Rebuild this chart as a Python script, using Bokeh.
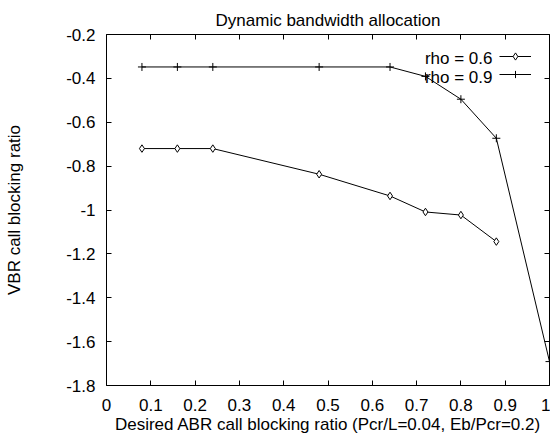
from math import pi
from bokeh.plotting import figure
from bokeh.models import Range1d, FixedTicker, LinearAxis, Label, Legend, LegendItem
from bokeh.embed import file_html
from bokeh.resources import INLINE

title_text = "Dynamic bandwidth allocation"
x_label = "Desired ABR call blocking ratio (Pcr/L=0.04, Eb/Pcr=0.2)"
y_label = "VBR call blocking ratio"
series_names = ["rho = 0.6", "rho = 0.9"]

x_rho06 = [0.08, 0.16, 0.24, 0.48, 0.64, 0.72, 0.80, 0.88]
y_rho06 = [-0.72, -0.72, -0.72, -0.837, -0.936, -1.009, -1.023, -1.144]
x_rho09 = [0.08, 0.16, 0.24, 0.48, 0.64, 0.72, 0.80, 0.88, 1.0]
y_rho09 = [-0.348, -0.348, -0.348, -0.348, -0.348, -0.391, -0.495, -0.673, -1.691]

x_ticks = [0.0, 0.1, 0.2, 0.3, 0.4, 0.5, 0.6, 0.7, 0.8, 0.9, 1.0]
x_tick_labels = ["0", "0.1", "0.2", "0.3", "0.4", "0.5", "0.6", "0.7", "0.8", "0.9", "1"]
y_ticks = [-1.8, -1.6, -1.4, -1.2, -1.0, -0.8, -0.6, -0.4, -0.2]
y_tick_labels = ["-1.8", "-1.6", "-1.4", "-1.2", "-1", "-0.8", "-0.6", "-0.4", "-0.2"]

FONT = "Liberation Sans"
FS = "17px"

p = figure(width=550, height=436, output_backend="svg", toolbar_location=None,
           x_range=Range1d(0, 1), y_range=Range1d(-1.8, -0.2),
           min_border_left=106, min_border_right=1, min_border_top=34, min_border_bottom=49,
           x_axis_location=None, y_axis_location=None)
p.grid.visible = False
p.outline_line_color = "black"
p.outline_line_width = 1
p.background_fill_color = "white"
p.border_fill_color = "white"

p.title.text = title_text
p.title.align = "center"
p.title.text_font = FONT
p.title.text_font_size = FS
p.title.text_font_style = "normal"
p.title.text_color = "black"
p.title.standoff = 9


def make_axis(ticks, labels, show_labels):
    ax = LinearAxis(ticker=FixedTicker(ticks=ticks))
    ax.major_tick_in = 5
    ax.major_tick_out = 0
    ax.minor_tick_in = 0
    ax.minor_tick_out = 0
    ax.axis_line_color = None
    ax.major_tick_line_color = "black"
    ax.major_label_text_font = FONT
    ax.major_label_text_color = "black"
    if show_labels:
        ax.major_label_overrides = {t: l for t, l in zip(ticks, labels)}
        ax.major_label_text_font_size = FS
        ax.major_label_standoff = 11
        ax.axis_label_text_font = FONT
        ax.axis_label_text_font_size = FS
        ax.axis_label_text_font_style = "normal"
        ax.axis_label_text_color = "black"
    else:
        ax.major_label_overrides = {t: "" for t in ticks}
        ax.major_label_text_font_size = "1px"
        ax.major_label_standoff = 0
    return ax


xaxis = make_axis(x_ticks, x_tick_labels, True)
xaxis.axis_label = x_label
xaxis.major_label_standoff = 13
xaxis.axis_label_standoff = 1
yaxis = make_axis(y_ticks, y_tick_labels, True)
yaxis.axis_label = y_label
yaxis.axis_label_standoff = 39
p.add_layout(xaxis, "below")
p.add_layout(yaxis, "left")
p.add_layout(make_axis(x_ticks, x_tick_labels, False), "above")
p.add_layout(make_axis(y_ticks, y_tick_labels, False), "right")

l06 = p.line(x_rho06, y_rho06, line_color="black", line_width=1)
s06 = p.scatter(x_rho06, y_rho06, marker="diamond", size=7.5,
                line_color="black", fill_color="white", line_width=1)
l09 = p.line(x_rho09, y_rho09, line_color="black", line_width=1)
s09 = p.scatter(x_rho09, y_rho09, marker="cross", size=8,
                line_color="black", line_width=1)

legend = Legend(items=[LegendItem(label=" ", renderers=[l06, s06]),
                       LegendItem(label=" ", renderers=[l09, s09])],
                location=(393, 302), glyph_width=32, glyph_height=18,
                label_width=0, label_height=18, label_standoff=0,
                label_text_font_size="6px", padding=0, spacing=0, margin=0,
                background_fill_alpha=0, border_line_color=None)
p.add_layout(legend, "center")

for i, name in enumerate(series_names):
    p.add_layout(Label(x=1.0, y=-0.2, x_offset=-57, y_offset=-24.3 - 18.4 * i,
                       text=name, text_align="right", text_baseline="middle",
                       text_font=FONT, text_font_size=FS, text_color="black"))

open("out.html", "w").write(file_html(p, INLINE))
